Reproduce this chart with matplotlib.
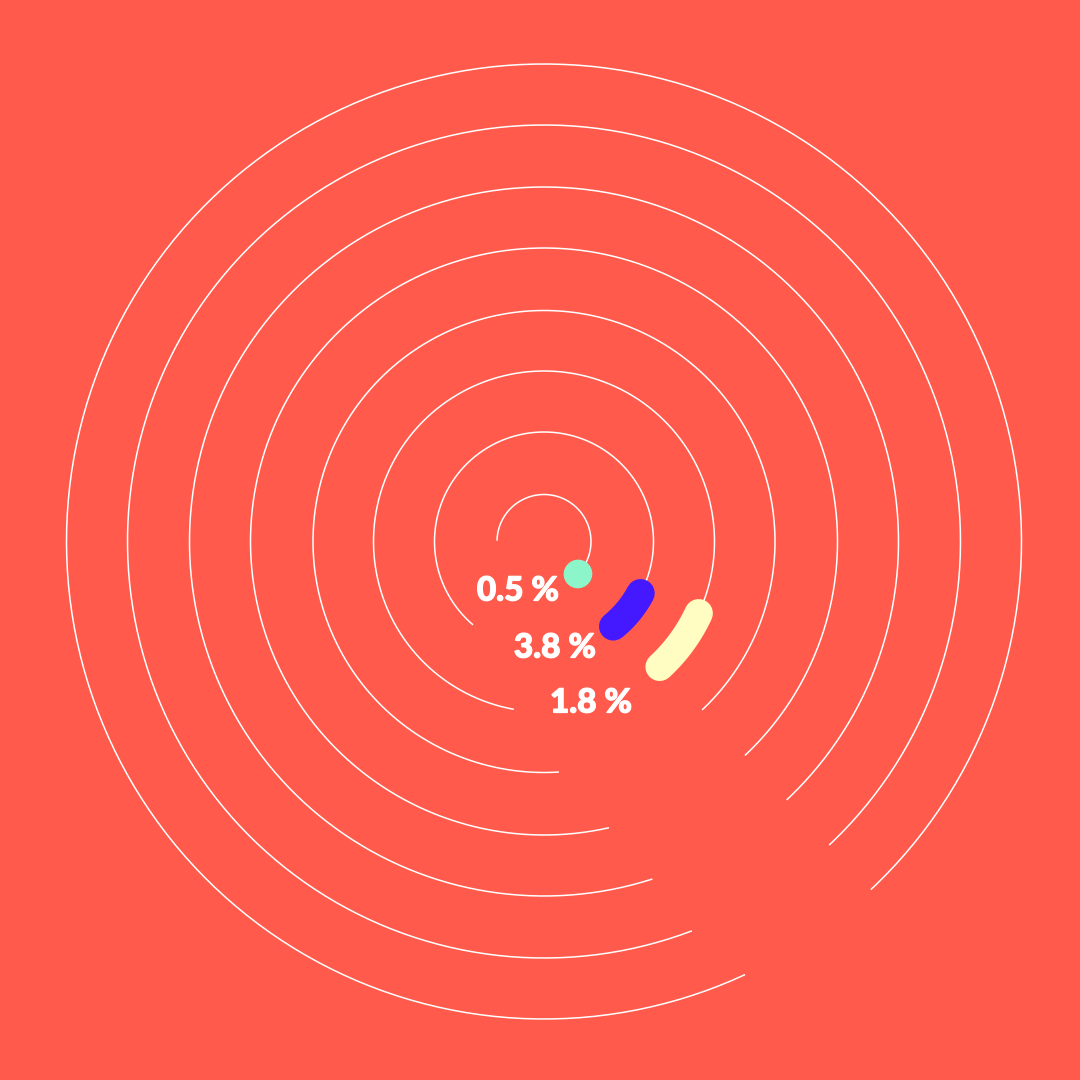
import numpy as np
import matplotlib
matplotlib.use("Agg")
import matplotlib.pyplot as plt
import matplotlib.patheffects as pe

# --- data ----------------------------------------------------------------
ring_radius = [47, 109.5, 170.5, 231, 293.5, 354.5, 416.5, 477.5]
track_start_deg = [271, 220.4, 190.2, 176.3, 167.2, 162.2, 159.2, 155.1]
track_end_deg = 136.8

value_labels = ["0.5 %", "3.8 %", "1.8 %"]
bar_start_deg = [133.4, 118.2, 114.9]
bar_end_deg = [134.0, 140.8, 137.3]
bar_colors = ["#8CF5C9", "#4419FF", "#FFFDC2"]

BG = "#FF5A4B"
W = 1080
CX, CY = 544, 541.5

fig = plt.figure(figsize=(10.8, 10.8), dpi=100, facecolor=BG)
R = 540
ax = fig.add_axes([(CX - R) / W, (W - CY - R) / W, 2 * R / W, 2 * R / W],
                  projection="polar")
ax.set_theta_zero_location("N")
ax.set_theta_direction(-1)
ax.set_rlim(0, R)
ax.axis("off")
ax.patch.set_alpha(0)

# white tracks, from the start bearing clockwise to the bar (or the gap)
for i, (r, s) in enumerate(zip(ring_radius, track_start_deg)):
    end = bar_start_deg[i] if i < len(bar_start_deg) else track_end_deg
    th = np.radians(np.linspace(s, end + 360, 400))
    ax.plot(th, np.full_like(th, r), color="white", lw=1.1,
            solid_capstyle="butt", zorder=2)

# coloured bars
for i, (s, e, c) in enumerate(zip(bar_start_deg, bar_end_deg, bar_colors)):
    th = np.radians(np.linspace(s, e, 60))
    ax.plot(th, np.full_like(th, ring_radius[i]), color=c, lw=20.5,
            solid_capstyle="round", zorder=3)

# labels
label_px = [(518, 591), (555, 648), (591, 703)]
for (x, y), t in zip(label_px, value_labels):
    fig.text(x / W, 1 - y / W, t, ha="center", va="center", color="white",
             fontsize=24, fontweight="black", family=["Lato", "DejaVu Sans"],
             path_effects=[pe.withStroke(linewidth=0.9, foreground="white")])

fig.savefig("out.png", dpi=100, facecolor=BG)
